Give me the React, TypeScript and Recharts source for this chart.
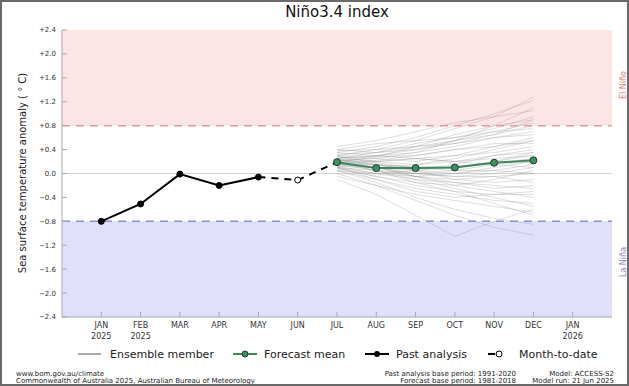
import { ComposedChart, Line, XAxis, YAxis, ReferenceArea, ReferenceLine } from "recharts";

const monthLabels = ["JAN", "FEB", "MAR", "APR", "MAY", "JUN", "JUL", "AUG", "SEP", "OCT", "NOV", "DEC", "JAN"];
const yearLabels = ["2025", "2025", "", "", "", "", "", "", "", "", "", "", "2026"];
const monthTicks = [0, 1, 2, 3, 4, 5, 6, 7, 8, 9, 10, 11, 12];
const yTicks = [-2.4, -2.0, -1.6, -1.2, -0.8, -0.4, 0, 0.4, 0.8, 1.2, 1.6, 2.0, 2.4];

// JAN..MAY 2025
const pastAnalysis = [-0.8, -0.51, -0.01, -0.2, -0.06];
// JUN 2025
const monthToDate = -0.11;
// JUL..DEC 2025
const forecastMean = [0.19, 0.09, 0.09, 0.1, 0.18, 0.22];

// ensemble members, JUL..DEC
const ensemble = [
  [0.2, 0.15, 0.1, 0.12, 0.18, 0.25],
  [0.25, 0.3, 0.4, 0.55, 0.7, 0.85],
  [0.15, 0.05, -0.05, -0.1, -0.05, 0.0],
  [0.3, 0.4, 0.55, 0.75, 0.95, 1.28],
  [0.1, -0.05, -0.2, -0.3, -0.35, -0.3],
  [0.22, 0.2, 0.25, 0.3, 0.35, 0.45],
  [0.05, -0.15, -0.4, -0.6, -0.75, -0.85],
  [0.35, 0.45, 0.6, 0.8, 1.0, 1.22],
  [0.18, 0.1, 0.0, 0.05, 0.15, 0.1],
  [0.28, 0.25, 0.2, 0.3, 0.45, 0.6],
  [0.0, -0.2, -0.45, -0.7, -0.9, -1.03],
  [0.12, 0.0, -0.1, -0.15, -0.2, -0.25],
  [0.4, 0.5, 0.55, 0.6, 0.7, 0.75],
  [0.15, 0.1, 0.15, 0.25, 0.4, 0.55],
  [-0.1, -0.35, -0.7, -1.05, -0.8, -0.6],
  [0.25, 0.15, 0.05, 0.0, 0.05, 0.15],
  [0.2, 0.3, 0.35, 0.45, 0.6, 0.7],
  [0.08, -0.05, -0.15, -0.2, -0.1, 0.05],
  [0.32, 0.35, 0.45, 0.5, 0.65, 0.9],
  [0.18, 0.05, -0.1, -0.25, -0.4, -0.55],
  [0.22, 0.25, 0.35, 0.55, 0.8, 1.1],
  [0.1, 0.05, 0.0, -0.05, 0.0, 0.1],
  [0.28, 0.2, 0.15, 0.2, 0.3, 0.35],
  [0.05, -0.1, -0.25, -0.35, -0.45, -0.5],
  [0.38, 0.4, 0.45, 0.55, 0.65, 0.8],
  [0.15, 0.2, 0.25, 0.2, 0.15, 0.2],
  [0.2, 0.1, -0.05, -0.2, -0.3, -0.4],
  [0.45, 0.55, 0.7, 0.85, 0.95, 1.05],
  [0.12, 0.1, 0.05, 0.15, 0.3, 0.4],
  [0.25, 0.1, -0.05, -0.15, -0.25, -0.2],
  [0.3, 0.28, 0.3, 0.4, 0.5, 0.5],
  [-0.05, -0.2, -0.35, -0.45, -0.55, -0.65],
  [0.18, 0.22, 0.3, 0.4, 0.45, 0.55],
  [0.1, 0.0, -0.05, 0.0, 0.1, 0.2],
  [0.35, 0.3, 0.25, 0.2, 0.25, 0.3],
  [0.2, 0.05, -0.15, -0.3, -0.5, -0.7],
  [0.25, 0.35, 0.5, 0.6, 0.75, 0.95],
  [0.15, 0.15, 0.1, 0.05, 0.05, 0.0],
  [0.05, 0.0, 0.05, 0.1, 0.2, 0.3],
  [0.28, 0.18, 0.1, 0.1, 0.2, 0.35],
  [0.22, 0.15, 0.05, -0.1, -0.15, -0.1],
  [0.4, 0.35, 0.4, 0.5, 0.6, 0.65],
  [0.1, -0.1, -0.3, -0.4, -0.35, -0.35],
  [0.18, 0.28, 0.45, 0.65, 0.8, 0.9],
  [0.15, 0.1, 0.0, -0.05, -0.05, -0.15],
];

const rows = monthTicks.slice(0, 12).map((m) => {
  const row: Record<string, number | null> = { m };
  row.past = m <= 4 ? pastAnalysis[m] : null;
  row.mtd = m === 5 ? monthToDate : null;
  row.bridge = m === 4 ? pastAnalysis[4] : m === 5 ? monthToDate : m === 6 ? forecastMean[0] : null;
  row.fc = m >= 6 ? forecastMean[m - 6] : null;
  ensemble.forEach((e, i) => {
    row["e" + i] = m >= 6 ? e[m - 6] : null;
  });
  return row;
});

const FONT = "DejaVu Sans";
const frame = "#a8a8a8";

const fmtY = (v: number) => {
  if (Math.abs(v) < 1e-9) return "0.0";
  return (v > 0 ? "+" : "\u2212") + Math.abs(v).toFixed(1);
};

const MonthTick = (props: any) => {
  const { x, y, payload } = props;
  const i = payload.value;
  return (
    <text x={x} y={y} textAnchor="middle" fontSize={8} fill="#333" fontFamily={FONT}>
      <tspan x={x} dy="0.8em">{monthLabels[i]}</tspan>
      {yearLabels[i] && <tspan x={x} dy="1.3em">{yearLabels[i]}</tspan>}
    </text>
  );
};

const NoTick = () => <g />;

export default function App() {
  return (
    <div style={{ position: "absolute", left: 0, top: 0, width: 629, height: 386, background: "#fff", fontFamily: FONT }}>
      <ComposedChart width={629} height={386} data={rows} margin={{ top: 30, right: 17, bottom: 39, left: 2 }}>
        <XAxis
          dataKey="m"
          type="number"
          domain={[-1, 13]}
          ticks={monthTicks}
          interval={0}
          height={30}
          stroke={frame}
          tickSize={-5}
          tickMargin={10}
          tick={<MonthTick />}
        />
        <XAxis xAxisId="top" orientation="top" dataKey="m" type="number" domain={[-1, 13]} ticks={monthTicks} height={0} stroke={frame} tickSize={-5} tick={<NoTick />} />
        <YAxis
          type="number"
          domain={[-2.4, 2.4]}
          ticks={yTicks}
          interval={0}
          width={60}
          stroke={frame}
          tickSize={-5}
          tickMargin={11}
          tickFormatter={fmtY}
          tick={{ fontSize: 7, fill: "#333", fontFamily: FONT }}
        />
        <YAxis yAxisId="right" orientation="right" type="number" domain={[-2.4, 2.4]} ticks={yTicks} width={0} stroke={frame} tickSize={-5} tick={<NoTick />} />
        <ReferenceArea x1={-1} x2={13} y1={0.8} y2={2.4} fill="#fde5e5" fillOpacity={1} stroke="none" />
        <ReferenceArea x1={-1} x2={13} y1={-2.4} y2={-0.8} fill="#e0e0fc" fillOpacity={1} stroke="none" />
        <ReferenceLine y={0} stroke="#d2d2d2" strokeWidth={1} />
        {ensemble.map((_, i) => (
          <Line
            key={i}
            dataKey={"e" + i}
            stroke="#8a8a8a"
            strokeOpacity={0.28}
            strokeWidth={1}
            dot={false}
            isAnimationActive={false}
          />
        ))}
        <ReferenceLine y={0.8} stroke="#e79a9a" strokeWidth={1.5} strokeDasharray="8 6" />
        <ReferenceLine y={-0.8} stroke="#8e8ec8" strokeWidth={1.5} strokeDasharray="8 6" />
        <Line dataKey="bridge" stroke="#000" strokeWidth={2} strokeDasharray="7 6" dot={false} isAnimationActive={false} />
        <Line dataKey="past" stroke="#000" strokeWidth={2} dot={{ r: 3, fill: "#000", stroke: "#000", strokeWidth: 1 }} isAnimationActive={false} />
        <Line dataKey="mtd" stroke="#000" strokeWidth={1} dot={{ r: 3, fill: "#fff", stroke: "#000", strokeWidth: 1 }} isAnimationActive={false} />
        <Line dataKey="fc" stroke="#3a8a5c" strokeWidth={2} dot={{ r: 3.5, fill: "#3f8f5f", stroke: "#1d3d2b", strokeWidth: 1 }} isAnimationActive={false} />
      </ComposedChart>

      <svg width={629} height={386} style={{ position: "absolute", left: 0, top: 0, pointerEvents: "none" }} fontFamily={FONT}>
        <text x={337} y={17} textAnchor="middle" fontSize={15} fill="#111">Niño3.4 index</text>
        <text transform="translate(26,173) rotate(-90)" textAnchor="middle" fontSize={10} fill="#222">
          Sea surface temperature anomaly ( ° C)
        </text>
        <text transform="translate(626,85) rotate(-90)" textAnchor="middle" fontSize={8} fill="#e07a7a">El Niño</text>
        <text transform="translate(626,262) rotate(-90)" textAnchor="middle" fontSize={8} fill="#8a84c0">La Niña</text>

        <g fontSize={11} fill="#222">
          <line x1={78} x2={101} y1={354} y2={354} stroke="#aaa" strokeWidth={2} />
          <text x={110} y={358}>Ensemble member</text>
          <line x1={233} x2={257} y1={354} y2={354} stroke="#3a8a5c" strokeWidth={2} />
          <circle cx={245} cy={354} r={3} fill="#3f8f5f" stroke="#1d3d2b" />
          <text x={264} y={358}>Forecast mean</text>
          <line x1={365} x2={389} y1={354} y2={354} stroke="#000" strokeWidth={2} />
          <circle cx={377} cy={354} r={3} fill="#000" />
          <text x={396} y={358}>Past analysis</text>
          <line x1={488} x2={495} y1={354} y2={354} stroke="#000" strokeWidth={2} />
          <circle cx={499} cy={354} r={3} fill="#fff" stroke="#000" />
          <text x={519} y={358}>Month-to-date</text>
        </g>

        <g fontSize={7} fill="#222">
          <text x={16} y={376}>www.bom.gov.au/climate</text>
          <text x={16} y={383}>Commonwealth of Australia 2025, Australian Bureau of Meteorology</text>
          <text x={516} y={376} textAnchor="end">Past analysis base period: 1991-2020</text>
          <text x={516} y={383} textAnchor="end">Forecast base period: 1981-2018</text>
          <text x={614} y={376} textAnchor="end">Model: ACCESS-S2</text>
          <text x={614} y={383} textAnchor="end">Model run: 21 Jun 2025</text>
        </g>
        <rect x={1} y={1} width={627} height={384} fill="none" stroke="#6a6a6a" strokeWidth={2} />
      </svg>
    </div>
  );
}
